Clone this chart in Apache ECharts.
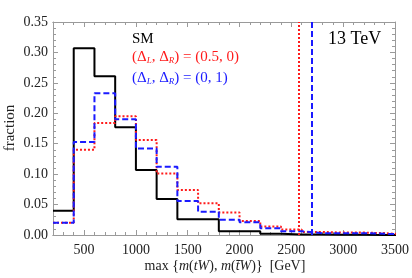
<!DOCTYPE html>
<html><head><meta charset="utf-8">
<script src="https://cdn.jsdelivr.net/npm/echarts@6/dist/echarts.min.js"></script>
<style>html,body{margin:0;padding:0;background:#fff}#c{width:412px;height:278px}</style>
</head><body><div id="c"></div>
<script>
// bin left edges (GeV); last bin right edge appended
const binEdges = [200,400,600,800,1000,1200,1400,1600,1800,2000,2200,2400,2600,2800,3000,3200,3400,3600];
const smValues   = [0.040,0.307,0.261,0.177,0.107,0.059,0.026,0.026,0.006,0.006,0.002,0.001,0.001,0.0005,0.0003,0.0002,0.0001];
const redValues  = [0.020,0.140,0.184,0.195,0.156,0.101,0.074,0.052,0.037,0.023,0.014,0.009,0.005,0.004,0.004,0.003,0.001];
const blueValues = [0.020,0.153,0.233,0.190,0.142,0.112,0.056,0.038,0.025,0.021,0.011,0.006,0.003,0.003,0.003,0.002,0.001];
const redCut = 2575, blueCut = 2700;
const xMajor = [500,1000,1500,2000,2500,3000,3500];
const xMinor = [];
for (let v = 200; v <= 3500; v += 100) xMinor.push(v);
const yLabels = ['0.00','0.05','0.10','0.15','0.20','0.25','0.30','0.35'];

function steps(vals){
  const d = vals.map((v,i)=>[binEdges[i], v]);
  d.push([binEdges[vals.length], vals[vals.length-1]]);
  return d;
}
const serif = '"Liberation Serif","DejaVu Serif",serif';
const axisGray = '#9a9a9a';
function xAx(pos, vals, len, labels){
  return {type:'value', min:200, max:3500, position:pos,
    axisLine:{show:true, lineStyle:{color:axisGray, width:1}},
    axisTick:{show:true, inside:true, length:len, customValues:vals, lineStyle:{color:axisGray}},
    axisLabel:{show:labels, customValues:xMajor, color:'#222', fontFamily:serif, fontSize:14, margin:8,
      formatter:(v)=>String(v)},
    splitLine:{show:false}};
}
function yAx(pos, labels){
  return {type:'value', min:0, max:0.35, interval:0.05, position:pos,
    axisLine:{show:true, lineStyle:{color:axisGray, width:1}},
    axisTick:{show:true, inside:true, length:5, lineStyle:{color:axisGray}},
    minorTick:{show:true, splitNumber:5, length:3, lineStyle:{color:axisGray}},
    axisLabel:{show:labels, color:'#222', fontFamily:serif, fontSize:14, margin:5,
      formatter:(v)=>yLabels[Math.round(v/0.05)]},
    splitLine:{show:false}};
}
const chart = echarts.init(document.getElementById('c'), null, {renderer:'canvas'});
chart.setOption({
  animation:false,
  grid:{left:53, right:16, top:22, bottom:43},
  xAxis:[xAx('bottom', xMajor, 5, true), xAx('bottom', xMinor, 3, false),
         xAx('top', xMajor, 5, false), xAx('top', xMinor, 3, false)],
  yAxis:[yAx('left', true), yAx('right', false)],
  series:[
    {type:'line', step:'end', data:steps(smValues), symbol:'none', xAxisIndex:0, yAxisIndex:0,
     lineStyle:{color:'#000', width:2}},
    {type:'line', step:'end', data:steps(redValues), symbol:'none', xAxisIndex:0, yAxisIndex:0,
     lineStyle:{color:'#ff1a1a', width:2, type:[2,2]},
     markLine:{silent:true, symbol:'none', label:{show:false}, data:[{xAxis:redCut}],
       lineStyle:{color:'#ff1a1a', width:2, type:[2,2]}}},
    {type:'line', step:'end', data:steps(blueValues), symbol:'none', xAxisIndex:0, yAxisIndex:0,
     lineStyle:{color:'#1a1aff', width:2, type:[6,3]},
     markLine:{silent:true, symbol:'none', label:{show:false}, data:[{xAxis:blueCut}],
       lineStyle:{color:'#1a1aff', width:2, type:[6,3]}}}
  ],
  graphic:[
    {type:'text', left:132, top:32, style:{text:'SM', font:'15px '+serif, fill:'#000'}},
    {type:'text', left:132, top:50, style:{
      text:'(Δ{s|L}, Δ{s|R}) = (0.5, 0)', font:'15px '+serif, fill:'#ff1a1a',
      rich:{s:{fontSize:9, fontStyle:'italic', fontFamily:serif, fill:'#ff1a1a', verticalAlign:'bottom', padding:[6,0,0,0]}}}},
    {type:'text', left:132, top:71, style:{
      text:'(Δ{s|L}, Δ{s|R}) = (0, 1)', font:'15px '+serif, fill:'#1a1aff',
      rich:{s:{fontSize:9, fontStyle:'italic', fontFamily:serif, fill:'#1a1aff', verticalAlign:'bottom', padding:[6,0,0,0]}}}},
    {type:'text', left:328, top:30, style:{text:'13 TeV', font:'18px '+serif, fill:'#000'}},
    {type:'text', x:10, y:128, rotation:Math.PI/2, style:{text:'fraction', font:'15px '+serif, fill:'#222', align:'center', verticalAlign:'middle'}},
    {type:'text', x:225, y:266, style:{
      text:'max {{i|m}({i|tW}), {i|m}({i|t\u0304W})}  [GeV]', font:'14px '+serif, fill:'#222', align:'center', verticalAlign:'middle',
      rich:{i:{fontStyle:'italic', fontSize:14, fontFamily:serif, fill:'#222'}}}}
  ]
});
</script></body></html>
